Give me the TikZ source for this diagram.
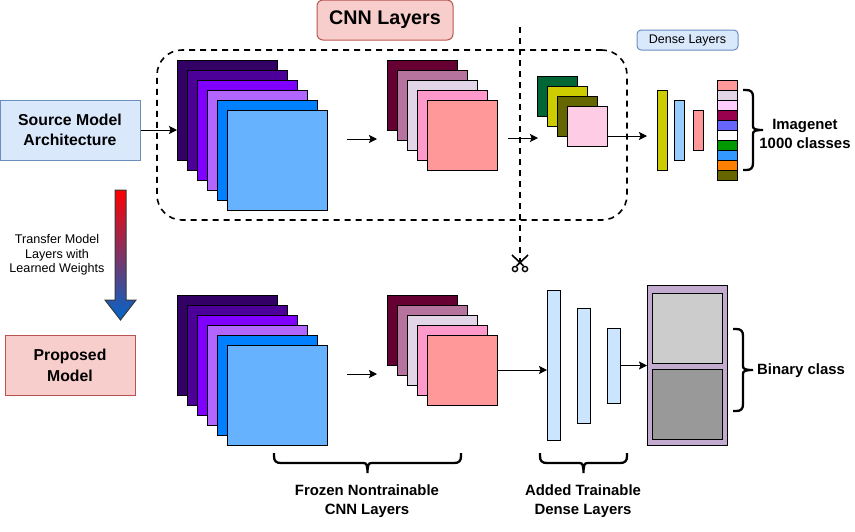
\documentclass[tikz,border=0pt]{standalone}
\usepackage{fontspec}
\setmainfont{Liberation Sans}
\usetikzlibrary{calc, positioning, arrows.meta, shadings}
\usepackage{xcolor}
\definecolor{colBlueFill}{HTML}{DAE8FC}
\definecolor{colBlueLine}{HTML}{6C8EBF}
\definecolor{colRedFill}{HTML}{F8CECC}
\definecolor{colRedLine}{HTML}{B85450}
\definecolor{colDense}{HTML}{CCE5FF}
\definecolor{colDenseA}{HTML}{CCCC00}
\definecolor{colDenseB}{HTML}{99CCFF}
\definecolor{colDenseC}{HTML}{FF9999}
\definecolor{colOut}{HTML}{C3ABD0}
\definecolor{colArrow}{HTML}{0066CC}
\definecolor{colArrowLine}{HTML}{36393D}

\begin{document}
\begin{tikzpicture}[
    x=1pt, y=-1pt,
    font=\fontsize{12.5}{14}\selectfont,
    layer_style/.style={draw=black, line width=1pt, inner sep=0pt, outer sep=0pt,
      anchor=north west},
    bluebox_style/.style={draw=colBlueLine, fill=colBlueFill, line width=1pt,
      inner sep=0pt, align=center},
    redbox_style/.style={draw=colRedLine, fill=colRedFill, line width=1pt,
      inner sep=0pt, align=center},
    label_style/.style={font=\fontsize{14.9}{18.5}\selectfont\bfseries, align=center},
    brace_style/.style={line width=2.3pt},
    arrow_style/.style={line width=1pt, -{Stealth[length=8pt,width=8pt,inset=1.5pt]}},
    cut_style/.style={line width=1.6pt, dash pattern=on 6pt off 5pt},
    pics/curly/.style={code={
      \draw[brace_style] (0,0) -- (3,0) .. controls (8,0) and (10,2) .. (10,7)
        -- (10,{#1/2-4}) .. controls (10,{#1/2-1}) and (12,{#1/2}) .. (20,{#1/2})
        .. controls (12,{#1/2}) and (10,{#1/2+1}) .. (10,{#1/2+4})
        -- (10,{#1-7}) .. controls (10,{#1-2}) and (8,#1) .. (3,#1) -- (0,#1);
    }}
]
    \useasboundingbox (0,0) rectangle (855,531);

    % --- dashed frame and cut line ---
    \node[draw=black, cut_style, rounded corners=25pt, inner sep=0pt, outer sep=0pt,
          minimum width=470pt, minimum height=170pt, anchor=north west]
        (frame) at (157,50) {};
    \coordinate (cuttop) at (520,27);
    \coordinate (cutend) at (520,262);
    \draw[cut_style] (cuttop) -- (cutend);

    % --- stacks, upper row and lower row ---
    \foreach \r/\y in {t/0, b/235}{
      \foreach \i/\col in {0/330066, 1/4C0099, 2/7F00FF, 3/B266FF, 4/007FFF, 5/66B2FF}{
        \definecolor{cur}{HTML}{\col}
        \node[layer_style, fill=cur, minimum width=100pt, minimum height=100pt]
            (big\r-\i) at ({177+10*\i},{60+\y+10*\i}) {};
      }
      \foreach \i/\col in {0/660033, 1/B5739D, 2/E1D5E7, 3/FF99CC, 4/FF9999}{
        \definecolor{cur}{HTML}{\col}
        \node[layer_style, fill=cur, minimum width=70pt, minimum height=70pt]
            (mid\r-\i) at ({387+10*\i},{60+\y+10*\i}) {};
      }
      \coordinate (gapa\r) at (347,{139+\y});
      \coordinate (gapb\r) at (377,{139+\y});
      \draw[arrow_style] (gapa\r) -- (gapb\r);
    }

    % --- small stack ---
    \foreach \i/\col in {0/006633, 1/CCCC00, 2/666600, 3/FFCCE6}{
      \definecolor{cur}{HTML}{\col}
      \node[layer_style, fill=cur, minimum width=40pt, minimum height=40pt]
          (small-\i) at ({537+10*\i},{76+10*\i}) {};
    }
    \coordinate (gapc) at (508,138);
    \coordinate (gapd) at (538,138);
    \draw[arrow_style] (gapc) -- (gapd);

    % --- upper dense layers ---
    \node[layer_style, fill=colDenseA, minimum width=10pt, minimum height=80pt]
        (densea) at (657,90) {};
    \node[layer_style, fill=colDenseB, minimum width=10pt, minimum height=60pt]
        (denseb) at (674,100) {};
    \node[layer_style, fill=colDenseC, minimum width=10pt, minimum height=40pt]
        (densec) at (693,110) {};
    \foreach \i/\col in {0/FF9999, 1/E1D5E7, 2/FFCCFF, 3/99004D, 4/6666FF,
                         5/FFFFFF, 6/009900, 7/3399FF, 8/FF8000, 9/666600}{
      \definecolor{cur}{HTML}{\col}
      \node[layer_style, fill=cur, minimum width=20pt, minimum height=10pt]
          (cell-\i) at (717,{80+10*\i}) {};
    }
    \coordinate (denseain) at (647,136);
    \draw[arrow_style] (small-3.east |- denseain) -- (denseain);

    % --- lower dense layers ---
    \node[layer_style, fill=colDense, minimum width=13pt, minimum height=150pt]
        (lowa) at (547,290) {};
    \node[layer_style, fill=colDense, minimum width=13pt, minimum height=115pt]
        (lowb) at (577,308) {};
    \node[layer_style, fill=colDense, minimum width=13pt, minimum height=75pt]
        (lowc) at (607,328) {};
    \node[layer_style, fill=colOut, minimum width=80pt, minimum height=160pt]
        (out) at (647,285) {};
    \node[layer_style, fill=black!20, minimum width=70pt, minimum height=70pt]
        (outa) at (652,293) {};
    \node[layer_style, fill=black!40, minimum width=70pt, minimum height=70pt]
        (outb) at (652,369) {};
    \draw[arrow_style] (midb-4.east) -- (midb-4.east -| lowa.west);
    \draw[arrow_style] (lowc.east) -- (lowc.east -| out.west);

    % --- boxes ---
    \node[bluebox_style, font=\fontsize{15.8}{20}\selectfont\bfseries,
          minimum width=140pt, minimum height=60pt] (source) at (70,130)
        {Source Model\\Architecture};
    \node[redbox_style, font=\fontsize{15.8}{21}\selectfont\bfseries,
          minimum width=130pt, minimum height=60pt] (proposed) at (70,365)
        {Proposed\\Model};
    \node[redbox_style, rounded corners=6pt, font=\fontsize{19.7}{22}\selectfont\bfseries,
          minimum width=136pt, minimum height=40pt] (cnn) at (385,20) {CNN Layers};
    \node[bluebox_style, rounded corners=4pt, minimum width=101pt, minimum height=20pt]
        (denselabel) at (687.5,40) {Dense Layers};
    \draw[arrow_style] (source.east) -- (source.east -| bigt-0.west);

    % --- transfer arrow ---
    \shade[top color=red, bottom color=colArrow, draw=colArrowLine, line width=1pt]
        (115,190) -- (126,190) -- (126,300) -- (136,300) -- (120.5,320)
        -- (105,300) -- (115,300) -- cycle;
    \node[align=center, font=\fontsize{12.6}{14.5}\selectfont] (transfer) at (57,255)
        {Transfer Model\\Layers with\\Learned Weights};

    % --- scissors ---
    \draw[line width=1.6pt] (512,255) -- (523.5,266) (528,255) -- (516.5,266);
    \draw[line width=1.4pt] (515,269) circle (2.6) (525,269) circle (2.6);

    % --- braces ---
    \pic at (743,90) {curly=80};
    \pic at (733,329) {curly=82};
    \pic[rotate=-90] at (461,453) {curly=187};
    \pic[rotate=-90] at (627,453) {curly=87};

    \node[label_style] (imagenet) at (805,134) {Imagenet\\1000 classes};
    \node[label_style] (binary) at (801,371) {Binary class};
    \node[label_style] (frozen) at (367,501) {Frozen Nontrainable\\CNN Layers};
    \node[label_style] (added) at (583,501) {Added Trainable\\Dense Layers};
\end{tikzpicture}
\end{document}
